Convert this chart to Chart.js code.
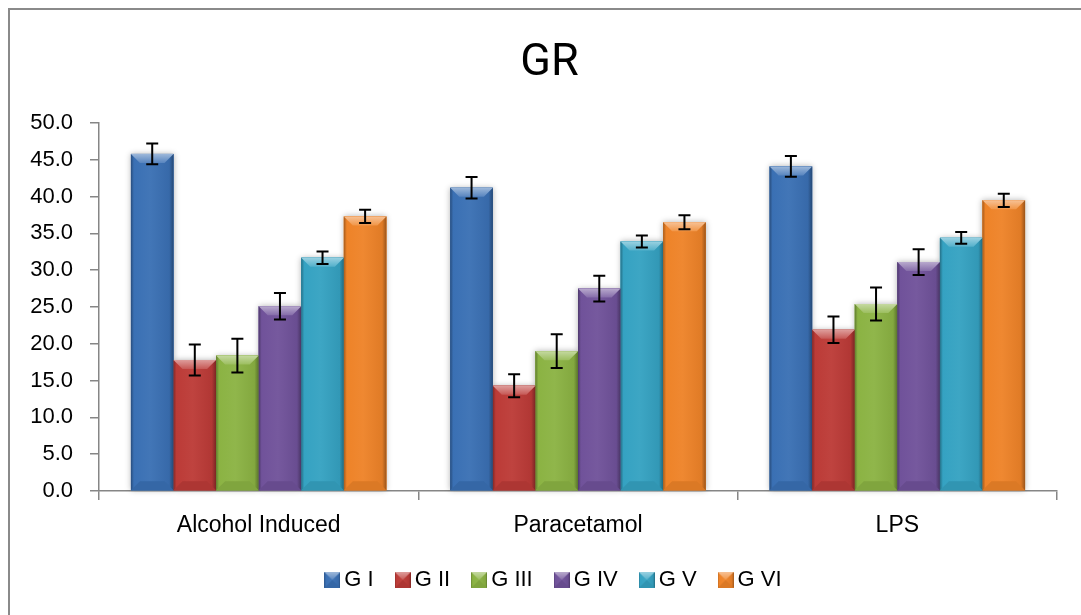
<!DOCTYPE html>
<html>
<head>
<meta charset="utf-8">
<title>GR</title>
<script src="https://cdn.jsdelivr.net/npm/chart.js@4.4.1/dist/chart.umd.min.js"></script>
<style>
  html, body { margin: 0; padding: 0; background: #fff; }
  #wrap { position: relative; width: 1081px; height: 615px; }
</style>
</head>
<body>
<div id="wrap"><canvas id="gr"></canvas></div>
<script>
// GR levels per model, six groups each, with +/- error.
const CATEGORIES = ['Alcohol Induced', 'Paracetamol', 'LPS'];
const GROUPS = ['G I', 'G II', 'G III', 'G IV', 'G V', 'G VI'];
const Y_TICKS = [0, 5, 10, 15, 20, 25, 30, 35, 40, 45, 50];

const G1 = [45.8, 41.2, 44.1];
const G2 = [17.8, 14.3, 21.9];
const G3 = [18.4, 19.0, 25.4];
const G4 = [25.1, 27.5, 31.1];
const G5 = [31.7, 33.9, 34.4];
const G6 = [37.3, 36.5, 39.5];

const G1_ERR = [1.4, 1.45, 1.4];
const G2_ERR = [2.1, 1.55, 1.8];
const G3_ERR = [2.3, 2.3, 2.25];
const G4_ERR = [1.8, 1.75, 1.75];
const G5_ERR = [0.85, 0.8, 0.8];
const G6_ERR = [0.9, 0.95, 0.9];

const SERIES = [G1, G2, G3, G4, G5, G6];
const ERRORS = [G1_ERR, G2_ERR, G3_ERR, G4_ERR, G5_ERR, G6_ERR];

const PALETTE = ['#3A70B4', '#BC3B37', '#8BB343', '#70529A', '#35A2C2', '#EE8328'];
const AXIS = '#868686';

function mix(hex, target, t) {
  const n = parseInt(hex.slice(1), 16);
  const c = [n >> 16, (n >> 8) & 255, n & 255].map(v => Math.round(v + (target - v) * t));
  return `rgb(${c[0]},${c[1]},${c[2]})`;
}
const lighter = (hex, t) => mix(hex, 255, t);
const darker = (hex, t) => mix(hex, 0, t);

function poly(ctx, pts) {
  ctx.beginPath();
  ctx.moveTo(pts[0][0], pts[0][1]);
  for (let i = 1; i < pts.length; i++) ctx.lineTo(pts[i][0], pts[i][1]);
  ctx.closePath();
  ctx.fill();
}

// beveled "soft edge" bar, Office 2007 style
function paintBar(ctx, x0, x1, top, bottom, color) {
  const w = x1 - x0, h = bottom - top;
  const b = Math.min(9, w / 2, h / 2);
  const body = ctx.createLinearGradient(x0, 0, x1, 0);
  body.addColorStop(0, darker(color, 0.3));
  body.addColorStop(0.07, color);
  body.addColorStop(0.45, lighter(color, 0.04));
  body.addColorStop(0.9, darker(color, 0.06));
  body.addColorStop(1, darker(color, 0.35));
  ctx.fillStyle = body;
  ctx.fillRect(x0, top, w, h);

  const topG = ctx.createLinearGradient(0, top, 0, top + b);
  topG.addColorStop(0, lighter(color, 0.5));
  topG.addColorStop(1, lighter(color, 0.15));
  ctx.fillStyle = topG;
  poly(ctx, [[x0, top], [x1, top], [x1 - b, top + b], [x0 + b, top + b]]);

  ctx.fillStyle = darker(color, 0.08);
  poly(ctx, [[x0, bottom], [x1, bottom], [x1 - b, bottom - b], [x0 + b, bottom - b]]);
}

// legend swatches share the bar look
function swatch(color) {
  const c = document.createElement('canvas');
  c.width = 16; c.height = 16;
  paintBar(c.getContext('2d'), 0, 16, 0, 16, color);
  return c;
}
const SWATCHES = PALETTE.map(swatch);

const frame = {
  id: 'frame',
  beforeDraw(chart) {
    const ctx = chart.ctx;
    ctx.save();
    ctx.strokeStyle = '#8a8a8a';
    ctx.lineWidth = 2;
    ctx.beginPath();
    ctx.moveTo(9, chart.height + 5);
    ctx.lineTo(9, 9);
    ctx.lineTo(chart.width + 5, 9);
    ctx.stroke();
    ctx.restore();
  }
};

// the chart frame runs past the right edge, so title and legend centre on it
const centreOnFrame = {
  id: 'centreOnFrame',
  afterLayout(chart) {
    chart.titleBlock.left += 11; chart.titleBlock.right += 11;
    chart.legend.left += 18; chart.legend.right += 18;
  }
};

const bevelBars = {
  id: 'bevelBars',
  beforeDatasetsDraw(chart) {
    const ctx = chart.ctx;
    ctx.save();
    ctx.shadowColor = 'rgba(0,0,0,0.3)';
    ctx.shadowBlur = 6;
    chart.data.datasets.forEach((ds, i) => {
      chart.getDatasetMeta(i).data.forEach(bar => {
        const { x, y, base, width } = bar.getProps(['x', 'y', 'base', 'width'], true);
        ctx.fillStyle = PALETTE[i];
        ctx.fillRect(x - width / 2, y, width, base - y);
      });
    });
    ctx.restore();
  },
  afterDatasetsDraw(chart) {
    const ctx = chart.ctx;
    const yScale = chart.scales.y;
    ctx.save();
    chart.data.datasets.forEach((ds, i) => {
      chart.getDatasetMeta(i).data.forEach(bar => {
        const { x, y, base, width } = bar.getProps(['x', 'y', 'base', 'width'], true);
        paintBar(ctx, x - width / 2, x + width / 2, y, base, PALETTE[i]);
      });
    });
    // error bars
    ctx.strokeStyle = '#000';
    ctx.lineWidth = 2;
    chart.data.datasets.forEach((ds, i) => {
      chart.getDatasetMeta(i).data.forEach((bar, j) => {
        const v = ds.data[j], e = ERRORS[i][j];
        const yHi = yScale.getPixelForValue(v + e);
        const yLo = yScale.getPixelForValue(v - e);
        ctx.beginPath();
        ctx.moveTo(bar.x, yHi); ctx.lineTo(bar.x, yLo);
        ctx.moveTo(bar.x - 6, yHi); ctx.lineTo(bar.x + 6, yHi);
        ctx.moveTo(bar.x - 6, yLo); ctx.lineTo(bar.x + 6, yLo);
        ctx.stroke();
      });
    });
    ctx.restore();
  }
};

Chart.defaults.font.family = '"Liberation Sans", Arial, sans-serif';
Chart.defaults.color = '#000';

new Chart(document.getElementById('gr'), {
  type: 'bar',
  data: {
    labels: CATEGORIES,
    datasets: GROUPS.map((g, i) => ({
      label: g,
      data: SERIES[i],
      backgroundColor: PALETTE[i],
      borderWidth: 0,
      categoryPercentage: 0.8,
      barPercentage: 1.0,
    }))
  },
  options: {
    responsive: true,
    maintainAspectRatio: false,
    animation: false,
    layout: { padding: { left: 20, right: 24, top: 0, bottom: 14 } },
    scales: {
      x: {
        offset: true,
        grid: { offset: true, drawOnChartArea: false, tickLength: 9, color: AXIS, lineWidth: 1.5 },
        border: { color: AXIS, width: 1.5 },
        ticks: { font: { size: 23 }, color: '#000', padding: 12 },
        afterFit(s) { s.height = 50; }
      },
      y: {
        min: 0, max: 50,
        afterBuildTicks(s) { s.ticks = Y_TICKS.map(v => ({ value: v })); },
        ticks: { font: { size: 22 }, color: '#000', padding: 17, callback: v => v.toFixed(1) },
        grid: { drawOnChartArea: false, tickLength: 9, color: AXIS, lineWidth: 1.5 },
        border: { color: AXIS, width: 1.5 },
        afterFit(s) { s.width = 79; }
      }
    },
    plugins: {
      title: {
        display: true,
        text: 'GR',
        color: '#000',
        font: { family: 'Roboto, "Liberation Sans", Arial, sans-serif', size: 45, weight: 'normal' },
        padding: { top: 37, bottom: 32 }
      },
      legend: {
        position: 'bottom',
        labels: {
          usePointStyle: true,
          pointStyleWidth: 2,
          padding: 28,
          font: { size: 22 },
          color: '#000',
          generateLabels(chart) {
            const items = Chart.defaults.plugins.legend.labels.generateLabels(chart);
            items.forEach(it => { it.pointStyle = SWATCHES[it.datasetIndex]; });
            return items;
          }
        }
      },
      tooltip: { enabled: false }
    }
  },
  plugins: [frame, centreOnFrame, bevelBars]
});
</script>
</body>
</html>
